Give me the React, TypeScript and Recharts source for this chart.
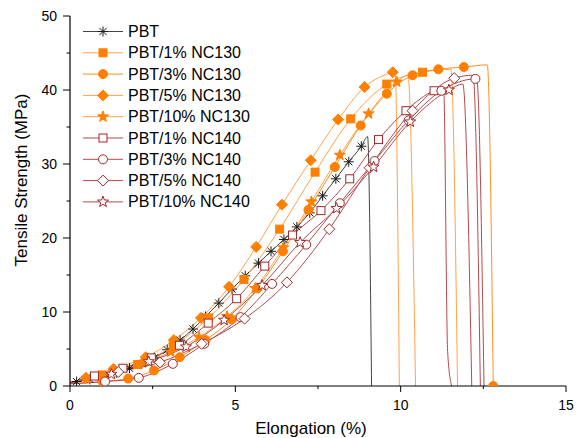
import React from 'react';
import { LineChart, Line, XAxis, YAxis } from 'recharts';

const FONT = "'Liberation Sans', Arial, sans-serif";

const xTicks = [0, 2.5, 5, 7.5, 10, 12.5, 15];
const yTicks = [0, 5, 10, 15, 20, 25, 30, 35, 40, 45, 50];

const seriesNames = [
  'PBT',
  'PBT/1% NC130',
  'PBT/3% NC130',
  'PBT/5% NC130',
  'PBT/10% NC130',
  'PBT/1% NC140',
  'PBT/3% NC140',
  'PBT/5% NC140',
  'PBT/10% NC140',
];

// marked points (with symbol) and extra path points (start, peak, break) per curve
const pbtMarks = [
  [0.2, 0.6], [0.6, 0.9], [1.0, 1.3], [1.4, 1.8], [1.8, 2.4], [2.17, 3.0], [2.55, 3.8], [2.94, 4.9],
  [3.33, 6.2], [3.72, 7.7], [4.1, 9.4], [4.5, 11.2], [4.9, 13.1], [5.3, 14.9], [5.7, 16.6], [6.08, 18.2],
  [6.47, 19.8], [6.86, 21.5], [7.25, 23.4], [7.64, 25.7], [8.04, 28.0], [8.43, 30.3], [8.81, 32.4],
];
const pbtPath = [[0, 0.4], [9.0, 33.7], [9.12, 0]];

const nc130_1Marks = [
  [0.97, 1.5], [2.05, 2.9], [3.12, 5.4], [4.19, 9.2], [5.26, 14.4], [6.34, 21.2], [7.41, 28.9],
  [8.49, 36.1], [9.58, 40.8], [10.66, 42.4],
];
const nc130_1Path = [[0, 0.4], [11.52, 42.8], [11.72, 0]];

const nc130_3Marks = [
  [0.98, 0.6], [1.76, 1.0], [2.54, 2.1], [3.32, 3.9], [4.1, 6.2], [4.89, 9.0], [5.67, 13.2], [6.44, 18.2],
  [7.21, 23.8], [8.01, 29.6], [8.79, 35.2], [9.58, 39.5], [10.36, 42.0], [11.14, 42.8], [11.91, 43.1],
  [12.8, 0],
];
const nc130_3Path = [[0, 0.3], [12.62, 43.4]];

const nc130_5Marks = [
  [0.48, 1.1], [1.31, 2.3], [2.29, 3.9], [3.14, 6.2], [3.96, 9.2], [4.81, 13.4], [5.63, 18.8],
  [6.41, 24.5], [7.28, 30.5], [8.11, 36.0], [8.91, 40.4], [9.76, 42.4],
];
const nc130_5Path = [[0, 0.4], [9.83, 42.5], [9.96, 0]];

const nc130_10Marks = [
  [0.5, 1.0], [1.35, 2.2], [2.2, 3.2], [3.05, 4.6], [3.9, 6.6], [4.75, 9.4], [5.6, 13.2], [6.45, 18.7],
  [7.3, 24.9], [8.16, 31.2], [9.03, 36.8], [9.88, 41.1],
];
const nc130_10Path = [[0, 0.4], [10.22, 42.0], [10.45, 0]];

const nc140_1Marks = [
  [0.74, 1.35], [1.6, 2.4], [2.46, 3.8], [3.31, 5.5], [4.18, 8.5], [5.04, 11.8], [5.89, 16.2],
  [6.73, 20.4], [7.59, 23.7], [8.46, 28.0], [9.33, 33.3], [10.16, 37.2], [11.01, 39.9],
];
const nc140_1Path = [[0, 0.5], [11.3, 40.3], [11.42, 4.7], [11.54, 0]];

const nc140_3Marks = [
  [1.06, 0.6], [2.08, 1.1], [3.11, 3.0], [4.06, 5.7], [5.16, 9.3], [6.11, 13.8], [7.14, 19.1],
  [8.16, 24.7], [9.21, 30.4], [10.24, 35.9], [11.23, 39.9], [12.26, 41.5],
];
const nc140_3Path = [[0, 0.3], [12.3, 41.5], [12.52, 0]];

const nc140_5Marks = [
  [1.46, 1.9], [2.72, 3.2], [3.98, 5.7], [5.28, 9.1], [6.56, 14.0], [7.84, 21.2], [9.06, 29.5],
  [10.36, 37.2], [11.62, 41.6],
];
const nc140_5Path = [[0, 0.4], [12.19, 42.0], [12.41, 0]];

const nc140_10Marks = [
  [1.25, 1.6], [2.38, 3.3], [3.51, 5.3], [4.66, 8.9], [5.81, 13.6], [6.96, 19.4], [8.06, 24.0],
  [9.18, 29.6], [10.29, 35.7], [11.46, 40.0],
];
const nc140_10Path = [[0, 0.4], [11.88, 40.8], [12.15, 0]];

const ORANGE = '#FF7F00';
const ORANGE_LINE = '#FFA24A';
const BROWN = '#A0282A';
const BROWN_LINE = '#B4494B';

const build = (marks: number[][], path: number[][]) =>
  [
    ...marks.map(([x, y]) => ({ x, y, m: true })),
    ...path.map(([x, y]) => ({ x, y, m: false })),
  ].sort((a, b) => a.x - b.x);

const series = [
  { data: build(pbtMarks, pbtPath), shape: 'asterisk', color: '#1A1A1A', line: '#444444', filled: true },
  { data: build(nc130_1Marks, nc130_1Path), shape: 'square', color: ORANGE, line: ORANGE_LINE, filled: true },
  { data: build(nc130_3Marks, nc130_3Path), shape: 'circle', color: ORANGE, line: '#FF8E24', filled: true },
  { data: build(nc130_5Marks, nc130_5Path), shape: 'diamond', color: ORANGE, line: ORANGE_LINE, filled: true },
  { data: build(nc130_10Marks, nc130_10Path), shape: 'star', color: ORANGE, line: ORANGE_LINE, filled: true },
  { data: build(nc140_1Marks, nc140_1Path), shape: 'square', color: BROWN, line: BROWN_LINE, filled: false },
  { data: build(nc140_3Marks, nc140_3Path), shape: 'circle', color: BROWN, line: BROWN_LINE, filled: false },
  { data: build(nc140_5Marks, nc140_5Path), shape: 'diamond', color: BROWN, line: BROWN_LINE, filled: false },
  { data: build(nc140_10Marks, nc140_10Path), shape: 'star', color: BROWN, line: BROWN_LINE, filled: false },
];

const starPoints = (cx: number, cy: number, ro: number, ri: number) => {
  const pts: string[] = [];
  for (let i = 0; i < 10; i++) {
    const r = i % 2 === 0 ? ro : ri;
    const a = -Math.PI / 2 + (i * Math.PI) / 5;
    pts.push(`${cx + r * Math.cos(a)},${cy + r * Math.sin(a)}`);
  }
  return pts.join(' ');
};

const Marker = ({ shape, cx, cy, color, filled }: any) => {
  const fill = filled ? color : '#FFFFFF';
  if (shape === 'asterisk') {
    const r = 5;
    const d = r * 0.72;
    return (
      <g stroke={color} strokeWidth={1}>
        <line x1={cx} y1={cy - r} x2={cx} y2={cy + r} />
        <line x1={cx - r} y1={cy} x2={cx + r} y2={cy} />
        <line x1={cx - d} y1={cy - d} x2={cx + d} y2={cy + d} />
        <line x1={cx - d} y1={cy + d} x2={cx + d} y2={cy - d} />
      </g>
    );
  }
  if (shape === 'square') {
    return <rect x={cx - 4} y={cy - 4} width={8} height={8} fill={fill} stroke={color} strokeWidth={1} />;
  }
  if (shape === 'circle') {
    return <circle cx={cx} cy={cy} r={4.5} fill={fill} stroke={color} strokeWidth={1} />;
  }
  if (shape === 'diamond') {
    const r = 5.5;
    return (
      <polygon
        points={`${cx},${cy - r} ${cx + r},${cy} ${cx},${cy + r} ${cx - r},${cy}`}
        fill={fill}
        stroke={color}
        strokeWidth={1}
      />
    );
  }
  return <polygon points={starPoints(cx, cy, 5.8, 2.4)} fill={fill} stroke={color} strokeWidth={1} />;
};

const XTick = ({ x, y, payload }: any) => {
  const major = payload.value % 5 === 0;
  return (
    <g>
      <line x1={x} y1={y} x2={x} y2={y + (major ? 6 : 3)} stroke="#000" strokeWidth={1} />
      {major && (
        <text x={x} y={y + 24} textAnchor="middle" fontSize={14} fontFamily={FONT} fill="#000">
          {payload.value}
        </text>
      )}
    </g>
  );
};

const YTick = ({ x, y, payload }: any) => {
  const major = payload.value % 10 === 0;
  return (
    <g>
      <line x1={x - (major ? 7 : 3.5)} y1={y} x2={x} y2={y} stroke="#000" strokeWidth={1} />
      {major && (
        <text x={x - 13} y={y + 5} textAnchor="end" fontSize={14} fontFamily={FONT} fill="#000">
          {payload.value}
        </text>
      )}
    </g>
  );
};

const App = () => {
  return (
    <div style={{ position: 'absolute', left: 0, top: 0, width: 578, height: 438, background: '#fff' }}>
      <LineChart width={578} height={438} margin={{ top: 16, right: 12, bottom: 0, left: 0 }}>
        <XAxis
          dataKey="x"
          type="number"
          domain={[0, 15]}
          ticks={xTicks}
          height={52}
          tickSize={0}
          tickMargin={0}
          tickLine={false}
          tick={<XTick />}
          axisLine={{ stroke: '#000', strokeWidth: 1.2 }}
          allowDataOverflow
        />
        <YAxis
          dataKey="y"
          type="number"
          domain={[0, 50]}
          ticks={yTicks}
          width={70}
          tickSize={0}
          tickMargin={0}
          tickLine={false}
          tick={<YTick />}
          axisLine={{ stroke: '#000', strokeWidth: 1.2 }}
          allowDataOverflow
        />
        {series.map((s, i) => (
          <Line
            key={seriesNames[i]}
            data={s.data}
            dataKey="y"
            type="monotone"
            stroke={s.line}
            strokeWidth={1}
            isAnimationActive={false}
            activeDot={false}
            dot={(p: any) =>
              p.payload.m ? (
                <Marker key={`${i}-${p.index}`} shape={s.shape} cx={p.cx} cy={p.cy} color={s.color} filled={s.filled} />
              ) : (
                <g key={`${i}-${p.index}`} />
              )
            }
          />
        ))}
      </LineChart>
      <svg
        width={578}
        height={438}
        style={{ position: 'absolute', left: 0, top: 0, pointerEvents: 'none' }}
        fontFamily={FONT}
      >
        <text
          x={0}
          y={0}
          transform="translate(27,180) rotate(-90)"
          textAnchor="middle"
          fontSize={17}
          fill="#000"
        >
          Tensile Strength (MPa)
        </text>
        <text x={311} y={434} textAnchor="middle" fontSize={17} fill="#000">
          Elongation (%)
        </text>
        {series.map((s, i) => {
          const cy = 31.5 + i * 21.3;
          return (
            <g key={seriesNames[i]}>
              <line x1={83} y1={cy} x2={123} y2={cy} stroke={s.line} strokeWidth={1} />
              <Marker shape={s.shape} cx={103} cy={cy} color={s.color} filled={s.filled} />
              <text x={128} y={cy + 5.5} fontSize={16} fill="#000">
                {seriesNames[i]}
              </text>
            </g>
          );
        })}
      </svg>
    </div>
  );
};

export default App;
